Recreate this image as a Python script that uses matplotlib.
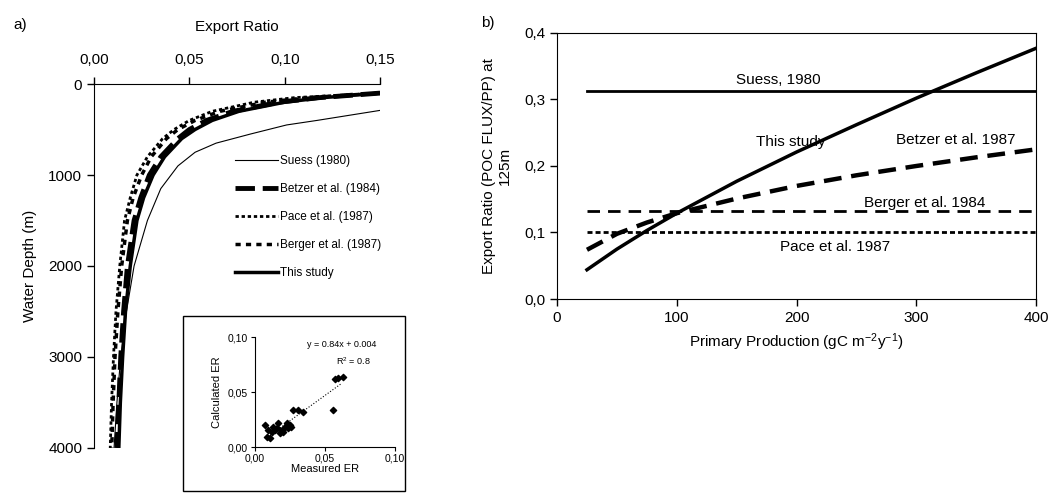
import matplotlib.pyplot as plt
from matplotlib.patches import Rectangle

plt.rcParams['font.family'] = ['Liberation Sans', 'DejaVu Sans']
plt.rcParams['mathtext.default'] = 'regular'
narrow = ['Liberation Sans Narrow', 'Liberation Sans', 'DejaVu Sans']

# ---- panel a) export ratio vs depth (values read off the figure) ----
depth = [100, 150, 200, 300, 400, 500, 600, 800, 1000, 1250, 1500, 2000, 2500, 3000, 3500, 4000]
pace_a = [0.150, 0.105, 0.084, 0.062, 0.050, 0.042, 0.036, 0.028, 0.0225, 0.019, 0.016, 0.0135, 0.0115, 0.0102, 0.0092, 0.0085]
berger_a = [0.150, 0.112, 0.090, 0.066, 0.053, 0.044, 0.038, 0.030, 0.025, 0.0205, 0.0175, 0.0145, 0.0125, 0.011, 0.010, 0.0093]
betzer_a = [0.150, 0.118, 0.097, 0.073, 0.059, 0.050, 0.044, 0.035, 0.029, 0.0245, 0.021, 0.0175, 0.0155, 0.014, 0.013, 0.012]
study_a = [0.150, 0.120, 0.100, 0.076, 0.062, 0.053, 0.046, 0.037, 0.031, 0.026, 0.0225, 0.019, 0.0165, 0.015, 0.0138, 0.013]
suess_depth = [290, 400, 450, 550, 650, 750, 900, 1150, 1500, 2000, 2500, 3000, 3500, 4000]
suess_a = [0.150, 0.117, 0.101, 0.082, 0.064, 0.053, 0.044, 0.035, 0.028, 0.021, 0.017, 0.014, 0.012, 0.0105]
er_ticks = [0, 0.05, 0.10, 0.15]
er_labels = ['0,00', '0,05', '0,10', '0,15']
depth_ticks = [0, 1000, 2000, 3000, 4000]

# inset: measured vs calculated ER
meas = [0.0071, 0.0083, 0.0107, 0.0095, 0.012, 0.0143, 0.0167, 0.0155, 0.019, 0.0214, 0.0226, 0.020,
        0.025, 0.026, 0.027, 0.031, 0.0345, 0.056, 0.057, 0.0595, 0.063, 0.013, 0.018, 0.0238]
calc = [0.020, 0.0094, 0.0082, 0.0155, 0.014, 0.0155, 0.0215, 0.017, 0.0155, 0.018, 0.0215, 0.014,
        0.020, 0.0185, 0.034, 0.0336, 0.032, 0.0336, 0.0615, 0.0624, 0.0633, 0.0185, 0.0125, 0.017]
fit_x = [0.011, 0.062]
fit_y = [0.011, 0.058]
in_ticks = [0, 0.05, 0.10]
in_labels = ['0,00', '0,05', '0,10']

# ---- panel b) export ratio vs primary production ----
pp = [25, 50, 75, 100, 150, 200, 250, 300, 350, 400]
study_b = [0.044, 0.075, 0.103, 0.129, 0.177, 0.221, 0.262, 0.302, 0.340, 0.377]
betzer_b = [0.074, 0.098, 0.115, 0.129, 0.151, 0.170, 0.186, 0.200, 0.213, 0.225]
pp_const = [25, 400]
suess_b = [0.313, 0.313]
berger_b = [0.132, 0.132]
pace_b = [0.101, 0.101]
er_b_ticks = [0, 0.1, 0.2, 0.3, 0.4]
er_b_labels = ['0,0', '0,1', '0,2', '0,3', '0,4']
pp_ticks = [0, 100, 200, 300, 400]

fig = plt.figure(figsize=(10.53, 4.93), dpi=100)

# panel a
ax = fig.add_axes([0.0893, 0.0913, 0.2716, 0.7383])
ax.plot(suess_a, suess_depth, color='black', lw=0.8, label='Suess (1980)')
ax.plot(betzer_a, depth, color='black', lw=3.5, dashes=(4, 1.6), label='Betzer et al. (1984)')
ax.plot(pace_a, depth, color='black', lw=2, dashes=(1.2, 1.0), label='Pace et al. (1987)')
ax.plot(berger_a, depth, color='black', lw=2.5, dashes=(1.5, 1.5), label='Berger et al. (1987)')
ax.plot(study_a, depth, color='black', lw=2.5, label='This study')
ax.set_xlim(0, 0.15)
ax.set_ylim(4000, 0)
ax.xaxis.tick_top()
ax.xaxis.set_label_position('top')
ax.set_xticks(er_ticks)
ax.set_xticklabels(er_labels)
ax.set_yticks(depth_ticks)
ax.spines['right'].set_visible(False)
ax.spines['bottom'].set_visible(False)
ax.tick_params(direction='out', length=5, width=1, labelsize=11)
ax.tick_params(axis='x', pad=7)
ax.set_xlabel('Export Ratio', fontsize=11, labelpad=16)
ax.set_ylabel('Water Depth (m)', fontsize=11, labelpad=8)
leg = ax.legend(loc='upper left', bbox_to_anchor=(235 / 1053, 1 - 155 / 493),
                bbox_transform=fig.transFigure, frameon=False, handlelength=3.6,
                handletextpad=0.2, labelspacing=1.35, borderpad=0, borderaxespad=0,
                prop={'family': narrow, 'size': 8.5})
fig.text(20 / 1053, 1 - 25 / 493, 'a)', fontsize=11, ha='center', va='center')

# inset frame and axes
fig.patches.append(Rectangle((183 / 1053, 2 / 493), 222 / 1053, 175 / 493,
                             transform=fig.transFigure, fill=False, lw=1, color='black'))
ins = fig.add_axes([0.2422, 0.0933, 0.133, 0.2231])
ins.scatter(meas, calc, marker='D', s=10, color='black', zorder=3)
ins.plot(fit_x, fit_y, color='black', lw=0.8, ls=':')
ins.set_xlim(0, 0.10)
ins.set_ylim(0, 0.10)
ins.set_xticks(in_ticks)
ins.set_xticklabels(in_labels)
ins.set_yticks(in_ticks)
ins.set_yticklabels(in_labels)
ins.spines['top'].set_visible(False)
ins.spines['right'].set_visible(False)
ins.tick_params(direction='out', length=3, labelsize=7.5, pad=2)
ins.set_xlabel('Measured ER', fontsize=8, family=narrow, labelpad=0)
ins.set_ylabel('Calculated ER', fontsize=8, family=narrow, labelpad=4)
ins.text(0.062, 0.093, 'y = 0.84x + 0.004', fontsize=6.5, family=narrow, ha='center', va='center')
ins.text(0.070, 0.078, 'R$^2$ = 0.8', fontsize=6.5, family=narrow, ha='center', va='center')

# panel b
bx = fig.add_axes([0.529, 0.3935, 0.4549, 0.5396])
bx.plot(pp_const, suess_b, color='black', lw=2)
bx.plot(pp, study_b, color='black', lw=2.5)
bx.plot(pp, betzer_b, color='black', lw=3.2, dashes=(4, 2.2))
bx.plot(pp_const, berger_b, color='black', lw=2, dashes=(4.5, 2.9))
bx.plot(pp_const, pace_b, color='black', lw=2, dashes=(1.8, 1.1))
bx.set_xlim(0, 400)
bx.set_ylim(0, 0.4)
bx.set_xticks(pp_ticks)
bx.set_yticks(er_b_ticks)
bx.set_yticklabels(er_b_labels)
bx.tick_params(direction='out', length=5, width=1, labelsize=11, top=False, right=False)
bx.set_xlabel('Primary Production (gC m$^{-2}$y$^{-1}$)', fontsize=11, labelpad=5)
fig.text(497 / 1053, 1 - 166 / 493, 'Export Ratio (POC FLUX/PP) at\n125m', rotation=90,
         fontsize=11, ha='center', va='center', multialignment='center', linespacing=1.1)
bx.text(185, 0.329, 'Suess, 1980', fontsize=11, ha='center', va='center')
bx.text(195, 0.236, 'This study', fontsize=11, ha='center', va='center')
bx.text(333, 0.239, 'Betzer et al. 1987', fontsize=11, ha='center', va='center')
bx.text(307, 0.144, 'Berger et al. 1984', fontsize=11, ha='center', va='center')
bx.text(232, 0.078, 'Pace et al. 1987', fontsize=11, ha='center', va='center')
fig.text(488 / 1053, 1 - 23 / 493, 'b)', fontsize=11, ha='center', va='center')

plt.savefig('out.png', dpi=100)
